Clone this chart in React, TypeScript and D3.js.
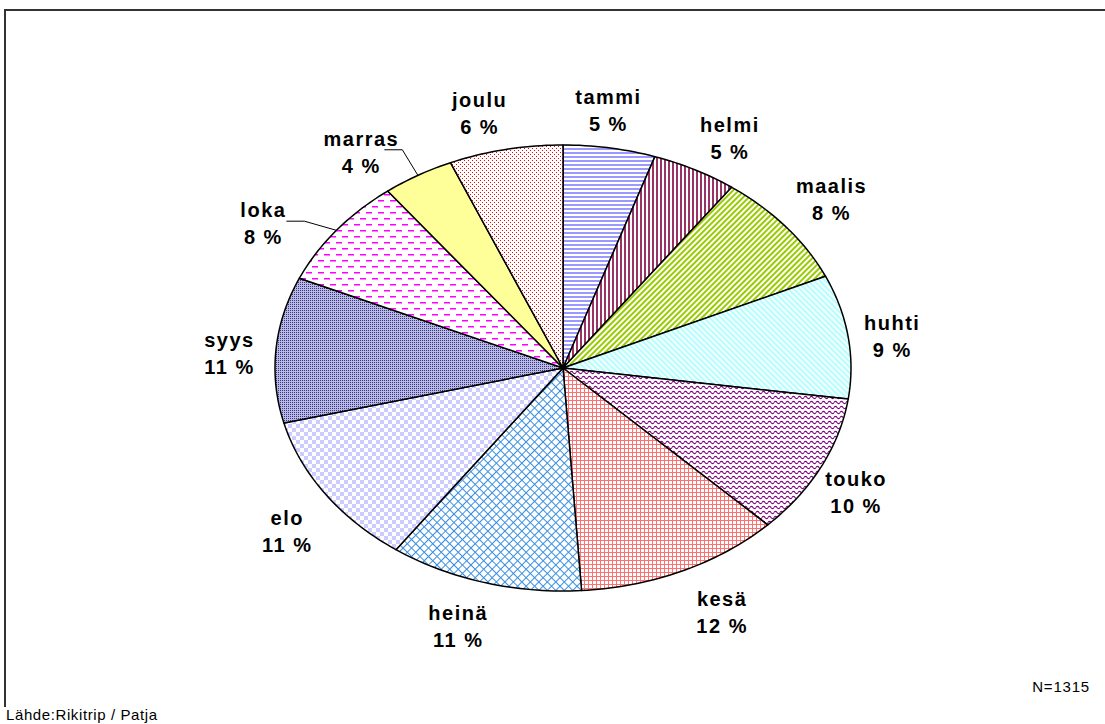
import React from "react";
import * as d3 from "d3";

const months = ["tammi", "helmi", "maalis", "huhti", "touko", "kesä", "heinä", "elo", "syys", "loka", "marras", "joulu"];
// counts of trips per month (N = 1315)
const counts = [68, 63, 109, 118, 134, 152, 143, 147, 139, 105, 53, 84];
const totalN = 1315;
const sourceText = "Lähde:Rikitrip / Patja";

const W = 1105;
const H = 724;
const cx = 563;
const cy = 368;
const rx = 288;
const ry = 223;

// label layout tweaks (best-fit positions like the original)
const LABEL_NUDGE: [number, number][] = [
  [-10, 4], [10, 6], [3, -1], [-10, 6], [-14, 6], [17, 3],
  [-11, 3], [7, 13], [8, 7], [-30, 19], [-29, 13], [-15, 5],
];
const LEADER = [false, false, false, false, false, false, false, false, false, true, true, false];

function pt(a: number, k = 1): [number, number] {
  return [cx + rx * k * Math.sin(a), cy - ry * k * Math.cos(a)];
}

function slicePath(a0: number, a1: number): string {
  const p = d3.path();
  p.moveTo(cx, cy);
  const [x0, y0] = pt(a0);
  p.lineTo(x0, y0);
  const steps = Math.max(8, Math.ceil((a1 - a0) / 0.02));
  for (let i = 1; i <= steps; i++) {
    const a = a0 + ((a1 - a0) * i) / steps;
    const [x, y] = pt(a);
    p.lineTo(x, y);
  }
  p.closePath();
  return p.toString();
}

export default function App() {
  const pie = d3.pie<number>().sort(null).value((d) => d).startAngle(0).endAngle(2 * Math.PI);
  const arcs = pie(counts);
  const total = d3.sum(counts);
  const fmt = (v: number) => `${Math.round((v / total) * 100)} %`;
  const font = "'Liberation Sans', Arial, sans-serif";

  return (
    <svg width={W} height={H} style={{ position: "absolute", left: 0, top: 0, background: "#fff" }}>
      <defs>
        <pattern id="p0" width={4} height={4} patternUnits="userSpaceOnUse">
          <rect width={4} height={4} fill="#fff" />
          <rect width={4} height={2} fill="#9999FF" />
        </pattern>
        <pattern id="p1" width={4} height={4} patternUnits="userSpaceOnUse">
          <rect width={4} height={4} fill="#fff" />
          <rect width={2} height={4} fill="#993366" />
        </pattern>
        <pattern id="p2" width={4} height={4} patternUnits="userSpaceOnUse" patternTransform="rotate(45)">
          <rect width={4} height={4} fill="#fff" />
          <rect width={2} height={4} fill="#99CC00" />
        </pattern>
        <pattern id="p3" width={4} height={4} patternUnits="userSpaceOnUse" patternTransform="rotate(-45)">
          <rect width={4} height={4} fill="#fff" />
          <rect width={2.2} height={4} fill="#B3FFFF" />
        </pattern>
        <pattern id="p4" width={6} height={5} patternUnits="userSpaceOnUse">
          <rect width={6} height={5} fill="#fff" />
          <path d="M0,2.5 Q1.5,0.3 3,2.5 T6,2.5" fill="none" stroke="#800080" strokeWidth={1.1} />
        </pattern>
        <pattern id="p5" width={4} height={4} patternUnits="userSpaceOnUse">
          <rect width={4} height={4} fill="#fff" />
          <rect width={4} height={1} fill="#FF7070" />
          <rect width={1} height={4} fill="#FF7070" />
        </pattern>
        <pattern id="p6" width={6} height={6} patternUnits="userSpaceOnUse" patternTransform="rotate(45)">
          <rect width={6} height={6} fill="#fff" />
          <rect width={6} height={1} fill="#3A8FE0" />
          <rect width={1} height={6} fill="#3A8FE0" />
        </pattern>
        <pattern id="p7" width={8} height={8} patternUnits="userSpaceOnUse">
          <rect width={8} height={8} fill="#fff" />
          <rect width={4} height={4} fill="#CCCCFF" />
          <rect x={4} y={4} width={4} height={4} fill="#CCCCFF" />
        </pattern>
        <pattern id="p8" width={2} height={2} patternUnits="userSpaceOnUse">
          <rect width={2} height={2} fill="#BABADD" />
          <rect width={1} height={1} fill="#333399" />
        </pattern>
        <pattern id="p9" width={12} height={12} patternUnits="userSpaceOnUse">
          <rect width={12} height={12} fill="#fff" />
          <rect x={0} y={2} width={6} height={1.5} fill="#FF00FF" />
          <rect x={6} y={8} width={6} height={1.5} fill="#FF00FF" />
        </pattern>
        <pattern id="p10" width={4} height={4} patternUnits="userSpaceOnUse">
          <rect width={4} height={4} fill="#FFFF99" />
        </pattern>
        <pattern id="p11" width={4} height={4} patternUnits="userSpaceOnUse">
          <rect width={4} height={4} fill="#fff" />
          <rect x={0} y={0} width={1} height={1} fill="#FF0000" />
          <rect x={2} y={2} width={1} height={1} fill="#FF0000" />
        </pattern>
      </defs>

      <path d="M5,707 V10 H1105" fill="none" stroke="#333" strokeWidth={2} />

      <g>
        {arcs.map((a, i) => (
          <path
            key={months[i]}
            d={slicePath(a.startAngle, a.endAngle)}
            fill={`url(#p${i})`}
            stroke="#000"
            strokeWidth={1.5}
            strokeLinejoin="round"
          />
        ))}
      </g>

      <g fontFamily={font} fontWeight="bold" fontSize={20} fill="#000" textAnchor="middle">
        {arcs.map((a, i) => {
          const mid = (a.startAngle + a.endAngle) / 2;
          const [bx, by] = pt(mid, 1.19);
          const x = bx + LABEL_NUDGE[i][0];
          const y = by + LABEL_NUDGE[i][1];
          const [ex, ey] = pt(mid, 1.0);
          return (
            <g key={months[i]}>
              {LEADER[i] && (
                <polyline
                  points={`${x + 23},${y - 2} ${x + 41},${y - 2} ${ex},${ey}`}
                  fill="none"
                  stroke="#000"
                  strokeWidth={1}
                />
              )}
              <text x={x} y={y - 13} dominantBaseline="central" letterSpacing={1.5}>
                {months[i]}
              </text>
              <text x={x} y={y + 14} dominantBaseline="central" letterSpacing={1.5}>
                {fmt(counts[i])}
              </text>
            </g>
          );
        })}
      </g>

      <text x={1090} y={692} textAnchor="end" fontFamily={font} fontSize={15} letterSpacing={0.8} fill="#000">
        {`N=${totalN}`}
      </text>
      <text x={6} y={720} fontFamily={font} fontSize={15} letterSpacing={0.6} fill="#000">
        {sourceText}
      </text>
    </svg>
  );
}
